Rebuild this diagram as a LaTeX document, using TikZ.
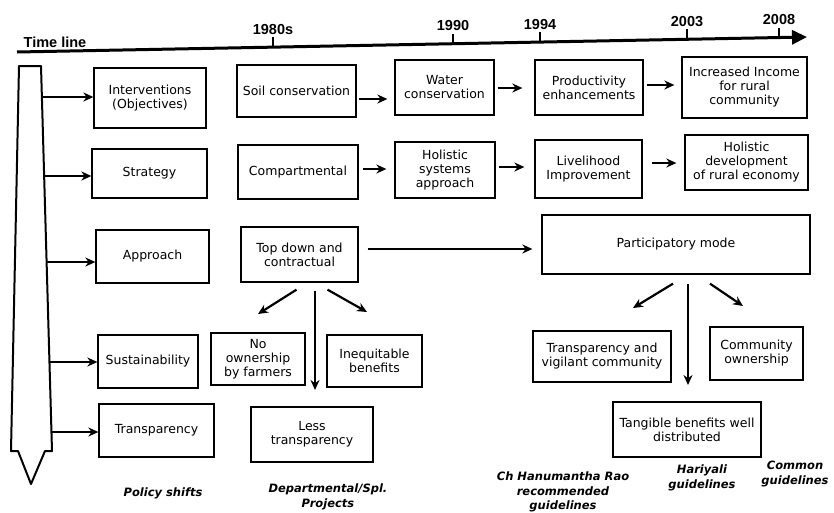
\documentclass[tikz,border=0pt]{standalone}
\usepackage{fontspec}
\setmainfont{DejaVu Sans}
\newfontfamily\yearfont{Liberation Sans}
\usetikzlibrary{positioning}
\usetikzlibrary{calc}
\usetikzlibrary{arrows.meta}

\begin{document}
\begin{tikzpicture}[
			x=1pt, y=-1pt,
			state/.style={rectangle, draw=black, line width=1.3pt, align=center, inner sep=1pt, font=\fontsize{12.5}{14}\selectfont},
			era/.style={align=center, font=\fontsize{11.5}{14.5}\selectfont\bfseries\itshape},
			year/.style={font=\yearfont\fontsize{14.5}{16}\selectfont\bfseries, inner sep=1pt},
			flow/.style={line width=2.2pt, arrows={-Stealth[length=10pt,width=9pt]}},
			]
			\useasboundingbox (0,0) rectangle (834,512);

			% time line with the years
			\coordinate (tl_s) at (17,52);
			\coordinate (tl_e) at (807,37);
			\draw [line width=3pt, arrows={-Triangle[length=15pt,width=14pt]}] (tl_s) -- (tl_e);
			\node[year] (tl) at (55,42) {Time line};
			\foreach \x/\yr in {273/1980s, 453/1990, 540/1994, 687/2003, 779/2008}
				\draw [line width=1.2pt] (\x,{52-15*(\x-17)/790}) -- ++(0,-10) node[year, above=1pt] (yr_\x) {\yr};

			% the long arrow on the left
			\draw [line width=2pt, line join=round] (19,66) -- (41,66) -- (52,451) -- (45,451) -- (31,484) -- (18,451) -- (11,451) -- cycle;

			% policy shifts
			\node[state, minimum width=112, minimum height=60] (o_0) at (150,98)    {Interventions\\(Objectives)};
			\node[state, minimum width=115, minimum height=49] (s_0) at (149.5,173.5) {Strategy};
			\node[state, minimum width=113, minimum height=53] (a_0) at (152.5,256.5) {Approach};
			\node[state, minimum width=100, minimum height=53] (u_0) at (148,361.5)  {Sustainability};
			\node[state, minimum width=115, minimum height=53] (t_0) at (156.5,430.5) {Transparency};

			% objectives
			\node[state, minimum width=119, minimum height=52] (o_1) at (296.5,91)  {Soil conservation};
			\node[state, minimum width=99,  minimum height=55] (o_2) at (444.5,87.5) {Water\\conservation};
			\node[state, minimum width=108, minimum height=55] (o_3) at (589,87.5)   {Productivity\\enhancements};
			\node[state, minimum width=125, minimum height=61] (o_4) at (744.5,87.5) {Increased Income\\for rural\\community};

			% strategy
			\node[state, minimum width=120, minimum height=54] (s_1) at (298,172)    {Compartmental};
			\node[state, minimum width=100, minimum height=56] (s_2) at (445,170)    {Holistic\\systems\\approach};
			\node[state, minimum width=107, minimum height=58] (s_3) at (588.5,169)  {Livelihood\\Improvement};
			\node[state, minimum width=123, minimum height=55] (s_4) at (746.5,162.5) {Holistic\\development\\of rural economy};

			% approach
			\node[state, minimum width=117, minimum height=55] (a_1) at (299.5,254.5) {Top down and\\contractual};
			\node[state, minimum width=268, minimum height=59] (a_2) at (676,244.5)   {Participatory mode};

			% outcomes
			\node[state, minimum width=94,  minimum height=52] (u_1) at (258,359)    {No\\ownership\\by farmers};
			\node[state, minimum width=95,  minimum height=52] (u_2) at (374.5,361)  {Inequitable\\benefits};
			\node[state, minimum width=122, minimum height=55] (t_1) at (312,434.5)  {Less\\transparency};
			\node[state, minimum width=138, minimum height=51] (u_3) at (602,356.5)  {Transparency and\\vigilant community};
			\node[state, minimum width=93,  minimum height=53] (u_4) at (756.5,353.5) {Community\\ownership};
			\node[state, minimum width=148, minimum height=55] (t_2) at (687,429.5)  {Tangible benefits well\\distributed};

			% bottom captions
			\node[era] (e_0) at (163,493) {Policy shifts};
			\node[era] (e_1) at (328,497) {Departmental/Spl.\\Projects};
			\node[era] (e_2) at (563,492) {Ch Hanumantha Rao\\recommended\\guidelines};
			\node[era] (e_3) at (702,478) {Hariyali\\guidelines};
			\node[era] (e_4) at (795,474) {Common\\guidelines};

			% from the long arrow
			\foreach \n/\y in {o_0/97, s_0/176, a_0/262, u_0/362, t_0/432}
				\draw [flow] ({41+11*(\y-66)/385},\y) -- (\n.west |- 0,\y);

			% along the rows
			\draw [flow, shorten <=2pt, shorten >=7pt] (o_1.east |- 0,99)  -- (o_2.west |- 0,99);
			\draw [flow, shorten <=3pt, shorten >=12pt] (o_2.east |- 0,88) -- (o_3.west |- 0,88);
			\draw [flow, shorten <=3pt, shorten >=7pt] (o_3.east |- 0,85)  -- (o_4.west |- 0,85);
			\draw [flow, shorten <=4pt, shorten >=8pt] (s_1.east |- 0,169) -- (s_2.west |- 0,169);
			\draw [flow, shorten <=3pt, shorten >=10pt] (s_2.east |- 0,167) -- (s_3.west |- 0,167);
			\draw [flow, shorten <=9pt, shorten >=8pt] (s_3.east |- 0,163) -- (s_4.west |- 0,163);
			\draw [flow, shorten <=9pt, shorten >=9pt] (a_1.east |- 0,249) -- (a_2.west |- 0,249);

			% branching out of the approaches
			\coordinate (d_l) at (258,314);
			\coordinate (d_m) at (315,390);
			\coordinate (d_r) at (367,312);
			\draw [flow] ([xshift=-3pt, yshift=-7pt]a_1.south) -- (d_l);
			\draw [flow] (d_m |- a_1.south) ++(0,8) -- (d_m);
			\draw [flow] ([xshift=28pt, yshift=-7pt]a_1.south) -- (d_r);

			\coordinate (p_l) at (633,308);
			\coordinate (p_m) at (688,385);
			\coordinate (p_r) at (743,306);
			\draw [flow] ([xshift=-3pt, yshift=-9pt]a_2.south) -- (p_l);
			\draw [flow] (p_m |- a_2.south) ++(0,9) -- (p_m);
			\draw [flow] ([xshift=34pt, yshift=-9pt]a_2.south) -- (p_r);

			\end{tikzpicture}
\end{document}
